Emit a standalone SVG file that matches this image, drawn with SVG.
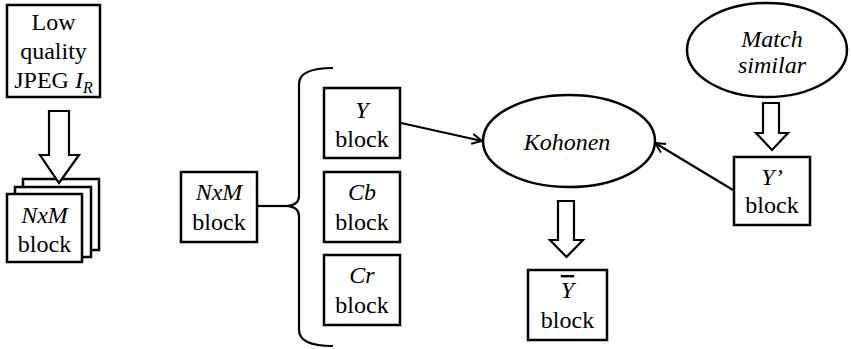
<svg xmlns="http://www.w3.org/2000/svg" width="851" height="349" viewBox="0 0 851 349">
<defs>
<style>
.box{fill:#fff;stroke:#000;stroke-width:2.5}
text{font-family:'Liberation Serif','DejaVu Serif',serif;font-size:24px;fill:#000;text-anchor:middle}
.i{font-style:italic}
.conn{fill:none;stroke:#000;stroke-width:2.2}
.hollow{fill:#fff;stroke:#000;stroke-width:2.2;stroke-linejoin:miter}
</style>
<marker id="ah" viewBox="0 0 12 12" refX="11" refY="6" markerWidth="12" markerHeight="12" markerUnits="userSpaceOnUse" orient="auto">
<path d="M1,1 L11,6 L1,11" fill="none" stroke="#000" stroke-width="2"/>
</marker>
</defs>
<rect width="851" height="349" fill="#fff"/>

<g id="low-quality">
<rect class="box" x="7" y="5" width="93" height="92"/>
<text x="53.5" y="30">Low</text>
<text x="53.5" y="59">quality</text>
<text x="53.5" y="88">JPEG <tspan class="i">I</tspan><tspan class="i" font-size="16" dy="5">R</tspan></text>
</g>

<g id="nxm-stack">
<rect class="box" x="23" y="179" width="76" height="71"/>
<rect class="box" x="15" y="187" width="76" height="70"/>
<rect class="box" x="7" y="194" width="75" height="68"/>
<text class="i" x="44.5" y="223">NxM</text>
<text x="44.5" y="252">block</text>
</g>

<g id="nxm-block">
<rect class="box" x="181" y="172" width="76" height="70"/>
<text class="i" x="219" y="200">NxM</text>
<text x="219" y="230">block</text>
</g>

<g id="y-block">
<rect class="box" x="324" y="88" width="76" height="70"/>
<text class="i" x="362" y="118">Y</text>
<text x="362" y="147">block</text>
</g>

<g id="cb-block">
<rect class="box" x="324" y="172" width="76" height="70"/>
<text class="i" x="362" y="200">Cb</text>
<text x="362" y="230">block</text>
</g>

<g id="cr-block">
<rect class="box" x="324" y="255" width="76" height="70"/>
<text class="i" x="362" y="283">Cr</text>
<text x="362" y="313">block</text>
</g>

<g id="kohonen">
<ellipse class="box" cx="569" cy="141" rx="86" ry="46"/>
<text class="i" x="567" y="150">Kohonen</text>
</g>

<g id="ybar-block">
<rect class="box" x="528" y="270" width="79" height="70"/>
<text class="i" x="567.5" y="298" text-decoration="overline">Y</text>
<text x="567.5" y="328">block</text>
</g>

<g id="match-similar">
<ellipse class="box" cx="767" cy="50" rx="80" ry="47"/>
<text class="i" x="772" y="47">Match</text>
<text class="i" x="772" y="73">similar</text>
</g>

<g id="yprime-block">
<rect class="box" x="734" y="157" width="76" height="68"/>
<text class="i" x="772" y="185">Y’</text>
<text x="772" y="213">block</text>
</g>

<g id="connectors">
<polygon class="hollow" points="49,111 69,111 69,155 79,155 59,183 40,155 49,155"/>
<polygon class="hollow" points="558,201 574,201 574,240 583,240 566.5,257 550,240 558,240"/>
<polygon class="hollow" points="763,103 779,103 779,133 788,133 772,150 756,133 763,133"/>
<path class="conn" d="M257,206 L287,206"/>
<path class="conn" d="M333,68 Q299,68 299,84 L299,196 Q299,205 287,206 Q299,207 299,216 L299,330 Q299,346 333,346"/>
<path class="conn" d="M401,123 L482,141" marker-end="url(#ah)"/>
<path class="conn" d="M733,190 L655,143" marker-end="url(#ah)"/>
</g>
</svg>
